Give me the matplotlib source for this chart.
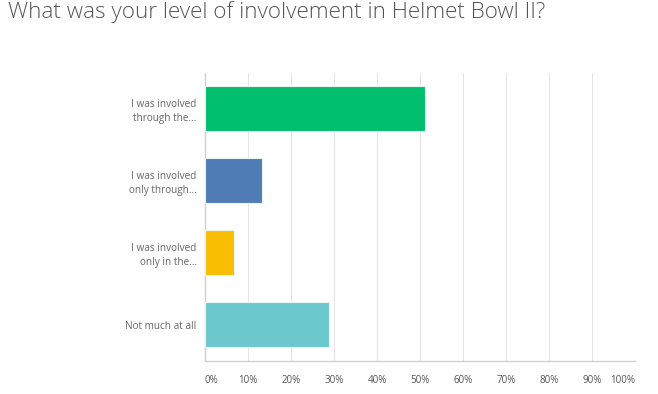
import matplotlib
matplotlib.use("Agg")
import matplotlib.pyplot as plt

categories = ["I was involved\nthrough the...", "I was involved\nonly through...",
              "I was involved\nonly in the...", "Not much at all"]
values = [51.11, 13.33, 6.67, 28.89]
colors = ["#00BF6F", "#507CB6", "#F9BE00", "#6BC8CD"]
ticks = [0, 10, 20, 30, 40, 50, 60, 70, 80, 90, 100]
tick_labels = [f"{t}%" for t in ticks]
title = "What was your level of involvement in Helmet Bowl II?"

plt.rcParams['font.family'] = ['Open Sans', 'DejaVu Sans']

fig = plt.figure(figsize=(6.58, 3.94), dpi=100)
ax = fig.add_axes([205/658, 1-360.7/394, 430/658, 288/394])

ypos = list(range(len(categories)))
ax.barh(ypos, values, height=0.62, color=colors, edgecolor="#e8f4ee", linewidth=0.8, zorder=3)
ax.set_ylim(len(categories)-0.5, -0.5)
ax.set_xlim(0, 100)
ax.set_yticks(ypos)
ax.set_yticklabels(categories, fontsize=7.2, color="#666666", linespacing=1.35)
ax.set_xticks(ticks)
ax.set_xticklabels(tick_labels, fontsize=7, color="#555555")
for i, lab in enumerate(ax.get_xticklabels()):
    if i == 0:
        lab.set_ha("left")
    elif i == len(ticks)-1:
        lab.set_ha("right")
ax.tick_params(axis="both", length=0)
ax.tick_params(axis="x", pad=10)
ax.tick_params(axis="y", pad=6)
ax.grid(axis="x", color="#e6e6e6", linewidth=0.8, zorder=0)
for s in ["top", "right"]:
    ax.spines[s].set_visible(False)
for s in ["left", "bottom"]:
    ax.spines[s].set_color("#d0d0d0")
    ax.spines[s].set_linewidth(1)

fig.text(8/658, 1-12/394, title, fontsize=16.2, color="#555555", fontweight="light",
         ha="left", va="center")

fig.savefig("out.png", dpi=100, facecolor="white")
